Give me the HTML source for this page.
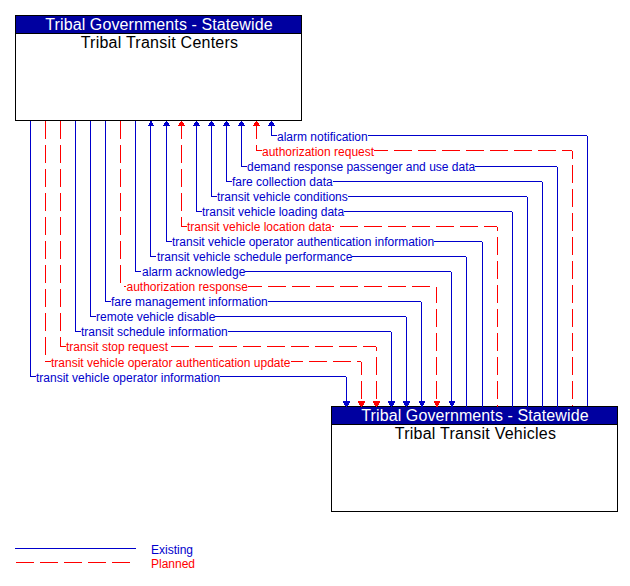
<!DOCTYPE html>
<html><head><meta charset="utf-8"><style>
html,body{margin:0;padding:0;background:#fff;width:630px;height:586px;overflow:hidden;position:relative}
svg{position:absolute;left:0;top:0}
.l{position:absolute;font-family:"Liberation Sans",sans-serif;font-size:12px;line-height:14px;height:14px;background:#fff;white-space:nowrap}
.t{position:absolute;font-family:"Liberation Sans",sans-serif;font-size:16px;line-height:18px;white-space:nowrap;text-align:center;width:287px}
.g{position:absolute;font-family:"Liberation Sans",sans-serif;font-size:12px;line-height:14px;white-space:nowrap}
</style></head><body>
<svg width="630" height="586" shape-rendering="crispEdges">
<rect x="15" y="15" width="287" height="106" fill="#000"/>
<rect x="16" y="16" width="285" height="104" fill="#fff"/>
<rect x="16" y="16" width="285" height="17" fill="#0000a0"/>
<rect x="16" y="33" width="285" height="1" fill="#000"/>
<rect x="331" y="406" width="287" height="106" fill="#000"/>
<rect x="332" y="407" width="285" height="104" fill="#fff"/>
<rect x="332" y="407" width="285" height="17" fill="#0000a0"/>
<rect x="332" y="424" width="285" height="1" fill="#000"/>
<rect x="271" y="121" width="1" height="15" fill="#0000cc"/>
<rect x="271" y="135" width="316" height="1" fill="#0000cc"/>
<rect x="587" y="136" width="1" height="270" fill="#0000cc"/>
<rect x="271" y="121" width="1" height="1" fill="#0000cc"/>
<rect x="270" y="122" width="3" height="1" fill="#0000cc"/>
<rect x="269" y="123" width="5" height="1" fill="#0000cc"/>
<rect x="269" y="124" width="5" height="1" fill="#0000cc"/>
<rect x="268" y="125" width="7" height="1" fill="#0000cc"/>
<rect x="256" y="121" width="1" height="18" fill="#ff0000"/>
<rect x="256" y="145" width="1" height="6" fill="#ff0000"/>
<rect x="256" y="150" width="12" height="1" fill="#ff0000"/>
<rect x="274" y="150" width="18" height="1" fill="#ff0000"/>
<rect x="298" y="150" width="18" height="1" fill="#ff0000"/>
<rect x="322" y="150" width="18" height="1" fill="#ff0000"/>
<rect x="346" y="150" width="18" height="1" fill="#ff0000"/>
<rect x="370" y="150" width="18" height="1" fill="#ff0000"/>
<rect x="394" y="150" width="18" height="1" fill="#ff0000"/>
<rect x="418" y="150" width="18" height="1" fill="#ff0000"/>
<rect x="442" y="150" width="18" height="1" fill="#ff0000"/>
<rect x="466" y="150" width="18" height="1" fill="#ff0000"/>
<rect x="490" y="150" width="18" height="1" fill="#ff0000"/>
<rect x="514" y="150" width="18" height="1" fill="#ff0000"/>
<rect x="538" y="150" width="18" height="1" fill="#ff0000"/>
<rect x="562" y="150" width="10" height="1" fill="#ff0000"/>
<rect x="572" y="151" width="1" height="8" fill="#ff0000"/>
<rect x="572" y="165" width="1" height="18" fill="#ff0000"/>
<rect x="572" y="189" width="1" height="18" fill="#ff0000"/>
<rect x="572" y="213" width="1" height="18" fill="#ff0000"/>
<rect x="572" y="237" width="1" height="18" fill="#ff0000"/>
<rect x="572" y="261" width="1" height="18" fill="#ff0000"/>
<rect x="572" y="285" width="1" height="18" fill="#ff0000"/>
<rect x="572" y="309" width="1" height="18" fill="#ff0000"/>
<rect x="572" y="333" width="1" height="18" fill="#ff0000"/>
<rect x="572" y="357" width="1" height="18" fill="#ff0000"/>
<rect x="572" y="381" width="1" height="18" fill="#ff0000"/>
<rect x="572" y="405" width="1" height="1" fill="#ff0000"/>
<rect x="256" y="121" width="1" height="1" fill="#ff0000"/>
<rect x="255" y="122" width="3" height="1" fill="#ff0000"/>
<rect x="254" y="123" width="5" height="1" fill="#ff0000"/>
<rect x="254" y="124" width="5" height="1" fill="#ff0000"/>
<rect x="253" y="125" width="7" height="1" fill="#ff0000"/>
<rect x="241" y="121" width="1" height="46" fill="#0000cc"/>
<rect x="241" y="166" width="316" height="1" fill="#0000cc"/>
<rect x="557" y="167" width="1" height="240" fill="#0000cc"/>
<rect x="241" y="121" width="1" height="1" fill="#0000cc"/>
<rect x="240" y="122" width="3" height="1" fill="#0000cc"/>
<rect x="239" y="123" width="5" height="1" fill="#0000cc"/>
<rect x="239" y="124" width="5" height="1" fill="#0000cc"/>
<rect x="238" y="125" width="7" height="1" fill="#0000cc"/>
<rect x="226" y="121" width="1" height="61" fill="#0000cc"/>
<rect x="226" y="181" width="316" height="1" fill="#0000cc"/>
<rect x="542" y="182" width="1" height="225" fill="#0000cc"/>
<rect x="226" y="121" width="1" height="1" fill="#0000cc"/>
<rect x="225" y="122" width="3" height="1" fill="#0000cc"/>
<rect x="224" y="123" width="5" height="1" fill="#0000cc"/>
<rect x="224" y="124" width="5" height="1" fill="#0000cc"/>
<rect x="223" y="125" width="7" height="1" fill="#0000cc"/>
<rect x="211" y="121" width="1" height="76" fill="#0000cc"/>
<rect x="211" y="196" width="316" height="1" fill="#0000cc"/>
<rect x="527" y="197" width="1" height="210" fill="#0000cc"/>
<rect x="211" y="121" width="1" height="1" fill="#0000cc"/>
<rect x="210" y="122" width="3" height="1" fill="#0000cc"/>
<rect x="209" y="123" width="5" height="1" fill="#0000cc"/>
<rect x="209" y="124" width="5" height="1" fill="#0000cc"/>
<rect x="208" y="125" width="7" height="1" fill="#0000cc"/>
<rect x="196" y="121" width="1" height="91" fill="#0000cc"/>
<rect x="196" y="211" width="316" height="1" fill="#0000cc"/>
<rect x="512" y="212" width="1" height="195" fill="#0000cc"/>
<rect x="196" y="121" width="1" height="1" fill="#0000cc"/>
<rect x="195" y="122" width="3" height="1" fill="#0000cc"/>
<rect x="194" y="123" width="5" height="1" fill="#0000cc"/>
<rect x="194" y="124" width="5" height="1" fill="#0000cc"/>
<rect x="193" y="125" width="7" height="1" fill="#0000cc"/>
<rect x="181" y="121" width="1" height="18" fill="#ff0000"/>
<rect x="181" y="145" width="1" height="18" fill="#ff0000"/>
<rect x="181" y="169" width="1" height="18" fill="#ff0000"/>
<rect x="181" y="193" width="1" height="18" fill="#ff0000"/>
<rect x="181" y="217" width="1" height="10" fill="#ff0000"/>
<rect x="181" y="226" width="9" height="1" fill="#ff0000"/>
<rect x="196" y="226" width="18" height="1" fill="#ff0000"/>
<rect x="220" y="226" width="18" height="1" fill="#ff0000"/>
<rect x="244" y="226" width="18" height="1" fill="#ff0000"/>
<rect x="268" y="226" width="18" height="1" fill="#ff0000"/>
<rect x="292" y="226" width="18" height="1" fill="#ff0000"/>
<rect x="316" y="226" width="18" height="1" fill="#ff0000"/>
<rect x="340" y="226" width="18" height="1" fill="#ff0000"/>
<rect x="364" y="226" width="18" height="1" fill="#ff0000"/>
<rect x="388" y="226" width="18" height="1" fill="#ff0000"/>
<rect x="412" y="226" width="18" height="1" fill="#ff0000"/>
<rect x="436" y="226" width="18" height="1" fill="#ff0000"/>
<rect x="460" y="226" width="18" height="1" fill="#ff0000"/>
<rect x="484" y="226" width="13" height="1" fill="#ff0000"/>
<rect x="497" y="227" width="1" height="4" fill="#ff0000"/>
<rect x="497" y="237" width="1" height="18" fill="#ff0000"/>
<rect x="497" y="261" width="1" height="18" fill="#ff0000"/>
<rect x="497" y="285" width="1" height="18" fill="#ff0000"/>
<rect x="497" y="309" width="1" height="18" fill="#ff0000"/>
<rect x="497" y="333" width="1" height="18" fill="#ff0000"/>
<rect x="497" y="357" width="1" height="18" fill="#ff0000"/>
<rect x="497" y="381" width="1" height="18" fill="#ff0000"/>
<rect x="497" y="405" width="1" height="2" fill="#ff0000"/>
<rect x="181" y="121" width="1" height="1" fill="#ff0000"/>
<rect x="180" y="122" width="3" height="1" fill="#ff0000"/>
<rect x="179" y="123" width="5" height="1" fill="#ff0000"/>
<rect x="179" y="124" width="5" height="1" fill="#ff0000"/>
<rect x="178" y="125" width="7" height="1" fill="#ff0000"/>
<rect x="166" y="121" width="1" height="121" fill="#0000cc"/>
<rect x="166" y="241" width="316" height="1" fill="#0000cc"/>
<rect x="482" y="242" width="1" height="165" fill="#0000cc"/>
<rect x="166" y="121" width="1" height="1" fill="#0000cc"/>
<rect x="165" y="122" width="3" height="1" fill="#0000cc"/>
<rect x="164" y="123" width="5" height="1" fill="#0000cc"/>
<rect x="164" y="124" width="5" height="1" fill="#0000cc"/>
<rect x="163" y="125" width="7" height="1" fill="#0000cc"/>
<rect x="150" y="121" width="1" height="136" fill="#0000cc"/>
<rect x="150" y="256" width="316" height="1" fill="#0000cc"/>
<rect x="466" y="257" width="1" height="150" fill="#0000cc"/>
<rect x="150" y="121" width="2" height="1" fill="#0000cc"/>
<rect x="150" y="122" width="2" height="1" fill="#0000cc"/>
<rect x="149" y="123" width="4" height="1" fill="#0000cc"/>
<rect x="149" y="124" width="4" height="1" fill="#0000cc"/>
<rect x="148" y="125" width="6" height="1" fill="#0000cc"/>
<rect x="135" y="121" width="1" height="151" fill="#0000cc"/>
<rect x="135" y="271" width="316" height="1" fill="#0000cc"/>
<rect x="451" y="272" width="1" height="135" fill="#0000cc"/>
<rect x="449" y="401" width="6" height="1" fill="#0000cc"/>
<rect x="449" y="402" width="6" height="1" fill="#0000cc"/>
<rect x="450" y="403" width="4" height="1" fill="#0000cc"/>
<rect x="450" y="404" width="4" height="1" fill="#0000cc"/>
<rect x="451" y="405" width="2" height="1" fill="#0000cc"/>
<rect x="451" y="406" width="2" height="1" fill="#0000cc"/>
<rect x="120" y="121" width="1" height="18" fill="#ff0000"/>
<rect x="120" y="145" width="1" height="18" fill="#ff0000"/>
<rect x="120" y="169" width="1" height="18" fill="#ff0000"/>
<rect x="120" y="193" width="1" height="18" fill="#ff0000"/>
<rect x="120" y="217" width="1" height="18" fill="#ff0000"/>
<rect x="120" y="241" width="1" height="18" fill="#ff0000"/>
<rect x="120" y="265" width="1" height="18" fill="#ff0000"/>
<rect x="124" y="286" width="18" height="1" fill="#ff0000"/>
<rect x="148" y="286" width="18" height="1" fill="#ff0000"/>
<rect x="172" y="286" width="18" height="1" fill="#ff0000"/>
<rect x="196" y="286" width="18" height="1" fill="#ff0000"/>
<rect x="220" y="286" width="18" height="1" fill="#ff0000"/>
<rect x="244" y="286" width="18" height="1" fill="#ff0000"/>
<rect x="268" y="286" width="18" height="1" fill="#ff0000"/>
<rect x="292" y="286" width="18" height="1" fill="#ff0000"/>
<rect x="316" y="286" width="18" height="1" fill="#ff0000"/>
<rect x="340" y="286" width="18" height="1" fill="#ff0000"/>
<rect x="364" y="286" width="18" height="1" fill="#ff0000"/>
<rect x="388" y="286" width="18" height="1" fill="#ff0000"/>
<rect x="412" y="286" width="18" height="1" fill="#ff0000"/>
<rect x="436" y="287" width="1" height="16" fill="#ff0000"/>
<rect x="436" y="309" width="1" height="18" fill="#ff0000"/>
<rect x="436" y="333" width="1" height="18" fill="#ff0000"/>
<rect x="436" y="357" width="1" height="18" fill="#ff0000"/>
<rect x="436" y="381" width="1" height="18" fill="#ff0000"/>
<rect x="436" y="405" width="1" height="2" fill="#ff0000"/>
<rect x="434" y="401" width="6" height="1" fill="#ff0000"/>
<rect x="434" y="402" width="6" height="1" fill="#ff0000"/>
<rect x="435" y="403" width="4" height="1" fill="#ff0000"/>
<rect x="435" y="404" width="4" height="1" fill="#ff0000"/>
<rect x="436" y="405" width="2" height="1" fill="#ff0000"/>
<rect x="436" y="406" width="2" height="1" fill="#ff0000"/>
<rect x="105" y="121" width="1" height="181" fill="#0000cc"/>
<rect x="105" y="301" width="316" height="1" fill="#0000cc"/>
<rect x="421" y="302" width="1" height="105" fill="#0000cc"/>
<rect x="419" y="401" width="6" height="1" fill="#0000cc"/>
<rect x="419" y="402" width="6" height="1" fill="#0000cc"/>
<rect x="420" y="403" width="4" height="1" fill="#0000cc"/>
<rect x="420" y="404" width="4" height="1" fill="#0000cc"/>
<rect x="421" y="405" width="2" height="1" fill="#0000cc"/>
<rect x="421" y="406" width="2" height="1" fill="#0000cc"/>
<rect x="90" y="121" width="1" height="196" fill="#0000cc"/>
<rect x="90" y="316" width="316" height="1" fill="#0000cc"/>
<rect x="406" y="317" width="1" height="90" fill="#0000cc"/>
<rect x="403" y="401" width="7" height="1" fill="#0000cc"/>
<rect x="403" y="402" width="7" height="1" fill="#0000cc"/>
<rect x="404" y="403" width="5" height="1" fill="#0000cc"/>
<rect x="404" y="404" width="5" height="1" fill="#0000cc"/>
<rect x="405" y="405" width="3" height="1" fill="#0000cc"/>
<rect x="406" y="406" width="1" height="1" fill="#0000cc"/>
<rect x="75" y="121" width="1" height="211" fill="#0000cc"/>
<rect x="75" y="331" width="316" height="1" fill="#0000cc"/>
<rect x="391" y="332" width="1" height="75" fill="#0000cc"/>
<rect x="388" y="401" width="7" height="1" fill="#0000cc"/>
<rect x="388" y="402" width="7" height="1" fill="#0000cc"/>
<rect x="389" y="403" width="5" height="1" fill="#0000cc"/>
<rect x="389" y="404" width="5" height="1" fill="#0000cc"/>
<rect x="390" y="405" width="3" height="1" fill="#0000cc"/>
<rect x="391" y="406" width="1" height="1" fill="#0000cc"/>
<rect x="60" y="121" width="1" height="18" fill="#ff0000"/>
<rect x="60" y="145" width="1" height="18" fill="#ff0000"/>
<rect x="60" y="169" width="1" height="18" fill="#ff0000"/>
<rect x="60" y="193" width="1" height="18" fill="#ff0000"/>
<rect x="60" y="217" width="1" height="18" fill="#ff0000"/>
<rect x="60" y="241" width="1" height="18" fill="#ff0000"/>
<rect x="60" y="265" width="1" height="18" fill="#ff0000"/>
<rect x="60" y="289" width="1" height="18" fill="#ff0000"/>
<rect x="60" y="313" width="1" height="18" fill="#ff0000"/>
<rect x="60" y="337" width="1" height="10" fill="#ff0000"/>
<rect x="60" y="346" width="9" height="1" fill="#ff0000"/>
<rect x="75" y="346" width="18" height="1" fill="#ff0000"/>
<rect x="99" y="346" width="18" height="1" fill="#ff0000"/>
<rect x="123" y="346" width="18" height="1" fill="#ff0000"/>
<rect x="147" y="346" width="18" height="1" fill="#ff0000"/>
<rect x="171" y="346" width="18" height="1" fill="#ff0000"/>
<rect x="195" y="346" width="18" height="1" fill="#ff0000"/>
<rect x="219" y="346" width="18" height="1" fill="#ff0000"/>
<rect x="243" y="346" width="18" height="1" fill="#ff0000"/>
<rect x="267" y="346" width="18" height="1" fill="#ff0000"/>
<rect x="291" y="346" width="18" height="1" fill="#ff0000"/>
<rect x="315" y="346" width="18" height="1" fill="#ff0000"/>
<rect x="339" y="346" width="18" height="1" fill="#ff0000"/>
<rect x="363" y="346" width="13" height="1" fill="#ff0000"/>
<rect x="376" y="347" width="1" height="4" fill="#ff0000"/>
<rect x="376" y="357" width="1" height="18" fill="#ff0000"/>
<rect x="376" y="381" width="1" height="18" fill="#ff0000"/>
<rect x="376" y="405" width="1" height="2" fill="#ff0000"/>
<rect x="373" y="401" width="7" height="1" fill="#ff0000"/>
<rect x="373" y="402" width="7" height="1" fill="#ff0000"/>
<rect x="374" y="403" width="5" height="1" fill="#ff0000"/>
<rect x="374" y="404" width="5" height="1" fill="#ff0000"/>
<rect x="375" y="405" width="3" height="1" fill="#ff0000"/>
<rect x="376" y="406" width="1" height="1" fill="#ff0000"/>
<rect x="45" y="121" width="1" height="18" fill="#ff0000"/>
<rect x="45" y="145" width="1" height="18" fill="#ff0000"/>
<rect x="45" y="169" width="1" height="18" fill="#ff0000"/>
<rect x="45" y="193" width="1" height="18" fill="#ff0000"/>
<rect x="45" y="217" width="1" height="18" fill="#ff0000"/>
<rect x="45" y="241" width="1" height="18" fill="#ff0000"/>
<rect x="45" y="265" width="1" height="18" fill="#ff0000"/>
<rect x="45" y="289" width="1" height="18" fill="#ff0000"/>
<rect x="45" y="313" width="1" height="18" fill="#ff0000"/>
<rect x="45" y="337" width="1" height="18" fill="#ff0000"/>
<rect x="45" y="361" width="1" height="1" fill="#ff0000"/>
<rect x="45" y="361" width="18" height="1" fill="#ff0000"/>
<rect x="69" y="361" width="18" height="1" fill="#ff0000"/>
<rect x="93" y="361" width="18" height="1" fill="#ff0000"/>
<rect x="117" y="361" width="18" height="1" fill="#ff0000"/>
<rect x="141" y="361" width="18" height="1" fill="#ff0000"/>
<rect x="165" y="361" width="18" height="1" fill="#ff0000"/>
<rect x="189" y="361" width="18" height="1" fill="#ff0000"/>
<rect x="213" y="361" width="18" height="1" fill="#ff0000"/>
<rect x="237" y="361" width="18" height="1" fill="#ff0000"/>
<rect x="261" y="361" width="18" height="1" fill="#ff0000"/>
<rect x="285" y="361" width="18" height="1" fill="#ff0000"/>
<rect x="309" y="361" width="18" height="1" fill="#ff0000"/>
<rect x="333" y="361" width="18" height="1" fill="#ff0000"/>
<rect x="357" y="361" width="4" height="1" fill="#ff0000"/>
<rect x="361" y="362" width="1" height="13" fill="#ff0000"/>
<rect x="361" y="381" width="1" height="18" fill="#ff0000"/>
<rect x="361" y="405" width="1" height="2" fill="#ff0000"/>
<rect x="358" y="401" width="7" height="1" fill="#ff0000"/>
<rect x="358" y="402" width="7" height="1" fill="#ff0000"/>
<rect x="359" y="403" width="5" height="1" fill="#ff0000"/>
<rect x="359" y="404" width="5" height="1" fill="#ff0000"/>
<rect x="360" y="405" width="3" height="1" fill="#ff0000"/>
<rect x="361" y="406" width="1" height="1" fill="#ff0000"/>
<rect x="30" y="121" width="1" height="256" fill="#0000cc"/>
<rect x="30" y="376" width="316" height="1" fill="#0000cc"/>
<rect x="346" y="377" width="1" height="30" fill="#0000cc"/>
<rect x="343" y="401" width="7" height="1" fill="#0000cc"/>
<rect x="343" y="402" width="7" height="1" fill="#0000cc"/>
<rect x="344" y="403" width="5" height="1" fill="#0000cc"/>
<rect x="344" y="404" width="5" height="1" fill="#0000cc"/>
<rect x="345" y="405" width="3" height="1" fill="#0000cc"/>
<rect x="346" y="406" width="1" height="1" fill="#0000cc"/>
<rect x="15" y="548" width="121" height="1" fill="#0000cc"/>
<rect x="16" y="562" width="18" height="1" fill="#ff0000"/>
<rect x="40" y="562" width="18" height="1" fill="#ff0000"/>
<rect x="64" y="562" width="18" height="1" fill="#ff0000"/>
<rect x="88" y="562" width="18" height="1" fill="#ff0000"/>
<rect x="112" y="562" width="18" height="1" fill="#ff0000"/>
</svg>
<div class="l" style="left:277px;padding-left:0px;top:130px;color:#0000cc">alarm notification</div>
<div class="l" style="left:262px;padding-left:0px;top:145px;color:#ff0000">authorization request</div>
<div class="l" style="left:247px;padding-left:0px;top:160px;color:#0000cc">demand response passenger and use data</div>
<div class="l" style="left:232px;padding-left:0px;top:175px;color:#0000cc">fare collection data</div>
<div class="l" style="left:217px;padding-left:0px;top:190px;color:#0000cc">transit vehicle conditions</div>
<div class="l" style="left:202px;padding-left:0px;top:205px;color:#0000cc">transit vehicle loading data</div>
<div class="l" style="left:187px;padding-left:0px;top:220px;color:#ff0000">transit vehicle location data</div>
<div class="l" style="left:172px;padding-left:0px;top:235px;color:#0000cc">transit vehicle operator authentication information</div>
<div class="l" style="left:156px;padding-left:1px;top:250px;color:#0000cc">transit vehicle schedule performance</div>
<div class="l" style="left:141px;padding-left:1px;top:265px;color:#0000cc">alarm acknowledge</div>
<div class="l" style="left:126px;padding-left:0.5px;top:280px;color:#ff0000">authorization response</div>
<div class="l" style="left:111px;padding-left:0px;top:295px;color:#0000cc">fare management information</div>
<div class="l" style="left:96px;padding-left:0px;top:310px;color:#0000cc">remote vehicle disable</div>
<div class="l" style="left:81px;padding-left:0px;top:325px;color:#0000cc">transit schedule information</div>
<div class="l" style="left:66px;padding-left:0px;top:340px;color:#ff0000">transit stop request</div>
<div class="l" style="left:51px;padding-left:0px;top:356px;color:#ff0000">transit vehicle operator authentication update</div>
<div class="l" style="left:36px;padding-left:0px;top:371px;color:#0000cc">transit vehicle operator information</div>
<div class="t" style="left:15.5px;top:16px;color:#fff;letter-spacing:0.1px">Tribal Governments - Statewide</div>
<div class="t" style="left:16px;top:34px;color:#000;letter-spacing:0.24px">Tribal Transit Centers</div>
<div class="t" style="left:331.5px;top:407px;color:#fff;letter-spacing:0.1px">Tribal Governments - Statewide</div>
<div class="t" style="left:332px;top:425px;color:#000;letter-spacing:0.24px">Tribal Transit Vehicles</div>
<div class="g" style="left:151px;top:543px;color:#0000cc">Existing</div>
<div class="g" style="left:151px;top:557px;color:#ff0000">Planned</div>
</body></html>
